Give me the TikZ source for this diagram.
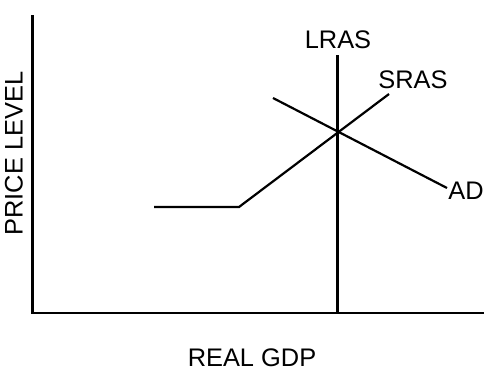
\documentclass[tikz,border=0pt]{standalone}
\usepackage{fontspec}
\setmainfont{Liberation Sans}
\begin{document}
\begin{tikzpicture}[x=1pt,y=-1pt,
  curve/.style={line width=2.2pt,line cap=butt,line join=miter},
  lbl/.style={inner sep=0pt,font=\fontsize{25.4}{30}\selectfont}]
\useasboundingbox (0,0) rectangle (490,381);
% axes
\coordinate (top) at (32.5,15);
\coordinate (origin) at (32.5,313);
\coordinate (right) at (484,313);
\draw[curve] (top) -- (origin) -- (right);
% LRAS
\coordinate (lrasTop) at (337.5,55);
\coordinate (lrasBot) at (337.5,313);
\draw[curve] (lrasTop) -- (lrasBot);
% SRAS
\coordinate (s1) at (154,207);
\coordinate (s2) at (239,207);
\coordinate (s3) at (389,94);
\draw[curve] (s1) -- (s2) -- (s3);
% AD
\coordinate (d1) at (273,98);
\coordinate (d2) at (447,188);
\draw[curve] (d1) -- (d2);
% labels
\node[lbl] (lLRAS) at (338,40) {LRAS};
\node[lbl] (lSRAS) at (413,80) {SRAS};
\node[lbl] (lAD) at (466,190.5) {AD};
\node[lbl] (lGDP) at (252,357.5) {REAL GDP};
\node[lbl,rotate=90] (lPL) at (14,153.5) {PRICE LEVEL};
\end{tikzpicture}
\end{document}
